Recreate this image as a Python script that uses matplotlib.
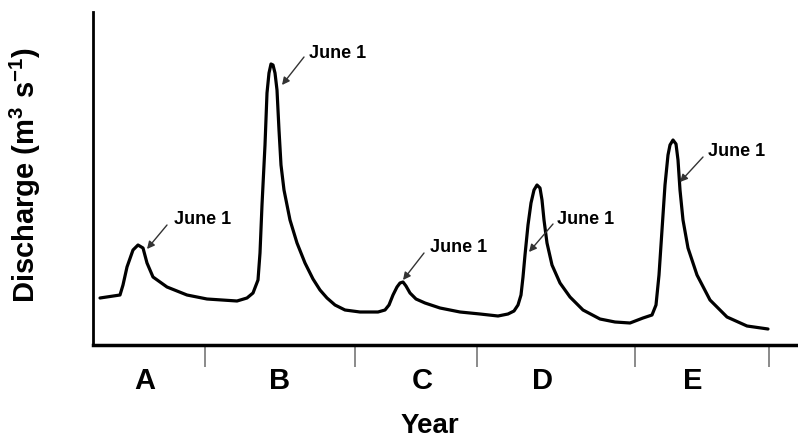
import matplotlib.pyplot as plt

plt.rcParams['font.family'] = ['Liberation Sans', 'DejaVu Sans']
plt.rcParams['font.weight'] = 'bold'
plt.rcParams['mathtext.fontset'] = 'custom'
plt.rcParams['mathtext.rm'] = 'Liberation Sans:bold'
plt.rcParams['mathtext.bf'] = 'Liberation Sans:bold'

# hydrograph (time units, discharge arbitrary units)
t = [7, 27, 30, 34, 40, 45, 50, 54, 60, 74, 94, 114, 144, 154, 160, 165,
     167, 169, 172, 174, 176, 178, 180, 182, 184, 186, 188, 191, 197, 204,
     212, 220, 227, 234, 242, 252, 267, 285, 292, 296, 300, 304, 307, 310,
     313, 317, 323, 332, 347, 367, 387, 405, 415, 421, 425, 428, 430, 432,
     435, 438, 441, 444, 447, 449, 451, 454, 459, 467, 477, 490, 507, 522,
     537, 550, 559, 563, 566, 569, 572, 575, 577, 580, 583, 585, 587, 590,
     595, 604, 617, 634, 654, 675]
q = [47, 50, 60, 78, 95, 100, 97, 82, 68, 58, 50, 46, 44, 47, 52, 65,
     92, 140, 200, 252, 272, 281, 280, 272, 255, 215, 180, 155, 125, 102,
     82, 66, 55, 47, 40, 35, 33, 33, 35, 40, 50, 58, 62, 63,
     59, 52, 46, 42, 37, 33, 31, 29, 31, 34, 40, 50, 68, 90,
     120, 142, 155, 160, 157, 145, 125, 102, 80, 62, 48, 35, 26, 23,
     22, 27, 30, 40, 70, 115, 160, 190, 200, 205, 201, 185, 155, 125,
     97, 70, 45, 28, 19, 16]

years = ['A', 'B', 'C', 'D', 'E']
year_pos = [52, 187, 329, 450, 600]
year_bounds = [112, 262, 384, 542, 676]

# "June 1" annotations: arrow head, arrow tail, text anchor
head_t = [54, 189, 310, 436, 587]
head_q = [96, 260, 65, 93, 163]
tail_t = [74, 211, 331, 460, 610]
tail_q = [120, 288, 92, 121, 188]
text_t = [81, 216, 337, 464, 615]
text_q = [125, 292, 97, 126, 194]

fig = plt.figure(figsize=(7.98, 4.4), dpi=100)
ax = fig.add_axes([93 / 798, 95 / 440, 705 / 798, 333 / 440])

ax.plot(t, q, color='black', lw=2.3, solid_capstyle='round', solid_joinstyle='round')

for ht, hq, tt, tq, xt, yt in zip(head_t, head_q, tail_t, tail_q, text_t, text_q):
    ax.annotate('', xy=(ht, hq), xytext=(tt, tq),
                arrowprops=dict(arrowstyle='-|>', color='#333333', lw=1,
                                mutation_scale=11, shrinkA=0, shrinkB=0))
    ax.text(xt, yt, 'June 1', fontsize=13, fontweight='bold', ha='left', va='center')

ax.set_xlim(0, 705)
ax.set_ylim(0, 333)
ax.spines['top'].set_visible(False)
ax.spines['right'].set_visible(False)
ax.spines['left'].set_linewidth(2)
ax.spines['bottom'].set_linewidth(2.5)
ax.set_yticks([])
ax.set_xticks(year_bounds)
ax.set_xticklabels([])
ax.tick_params(axis='x', direction='out', length=16, width=1.2, color='#777777')

for lab, pos in zip(years, year_pos):
    ax.text(pos, -36, lab, fontsize=21, fontweight='bold', ha='center', va='center')

ax.set_xlabel('Year', fontsize=20, fontweight='bold')
ax.set_ylabel(r'Discharge (m$^{3}$ s$^{-1}$)', fontsize=21, fontweight='bold')
ax.xaxis.set_label_coords(337 / 705, -68 / 333)
ax.yaxis.set_label_coords(-50 / 705, 170 / 333)

fig.savefig('out.png', dpi=100)
